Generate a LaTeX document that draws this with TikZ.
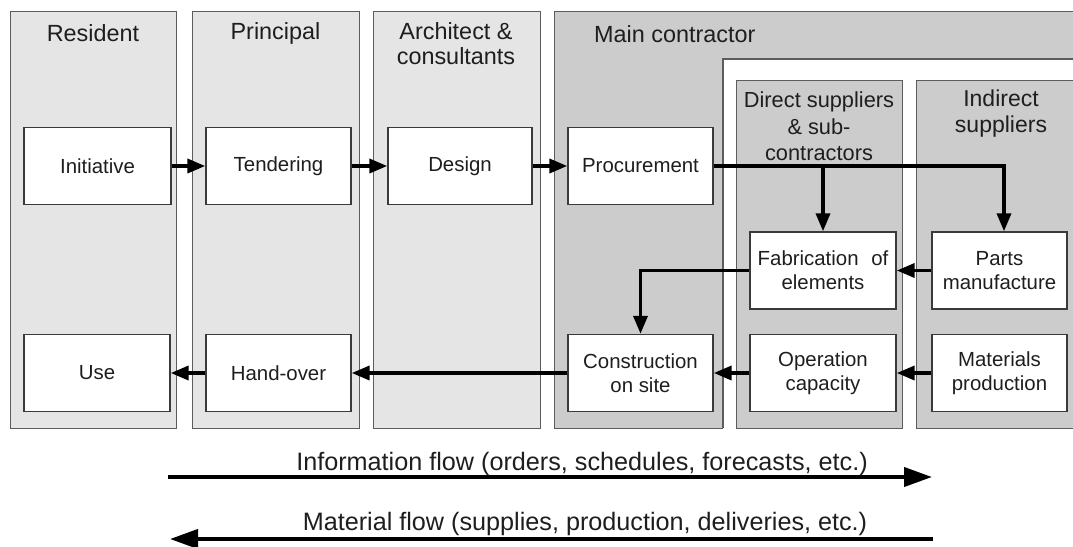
\documentclass[tikz,border=0pt]{standalone}
\usepackage{fontspec}
\setmainfont{Liberation Sans}
\usetikzlibrary{arrows.meta}
\definecolor{lanelight}{HTML}{E5E5E5}
\definecolor{lanedark}{HTML}{CCCCCC}
\definecolor{laneedge}{HTML}{5C5C5C}
\definecolor{boxedge}{HTML}{3A3A3A}
\definecolor{ink}{HTML}{1E1E1E}
\begin{document}
\begin{tikzpicture}[x=1pt,y=-1pt,
  lane/.style={draw=laneedge,line width=1.2pt,anchor=north west,inner sep=0pt},
  box/.style={draw=boxedge,fill=white,line width=1.4pt,minimum height=77pt,align=center,
    font=\fontsize{20.4}{24}\selectfont,text=ink,inner sep=0pt},
  head/.style={font=\fontsize{23.4}{25}\selectfont,align=center,text=ink,inner sep=0pt},
  arr/.style={line width=3.6pt,-{Triangle[length=18pt,width=14pt]}},
  flow/.style={line width=4pt,-{Triangle[length=28pt,width=19pt]}},
  flowtext/.style={font=\fontsize{25.2}{28}\selectfont,text=ink,inner sep=0pt,anchor=base}
]
\useasboundingbox (0,0) rectangle (1073,546);
\clip (0,0) rectangle (1073,546);

% swim lanes
\node[lane,fill=lanelight,minimum width=166pt,minimum height=417pt] (resL) at (10,11) {};
\node[lane,fill=lanelight,minimum width=167pt,minimum height=417pt] (prinL) at (192,11) {};
\node[lane,fill=lanelight,minimum width=167pt,minimum height=417pt] (archL) at (373,11) {};
\node[lane,fill=lanedark,minimum width=540pt,minimum height=417pt] (mainL) at (554,11) {};
% white inner area of the main contractor
\fill[white] (723,59) rectangle (1090,430);
\draw[laneedge,line width=1.2pt] (723,428) -- (723,59) -- (1090,59);
\node[lane,fill=lanedark,minimum width=166pt,minimum height=348pt] (dirL) at (736,80) {};
\node[lane,fill=lanedark,minimum width=172pt,minimum height=348pt] (indL) at (916,80) {};

% lane headings
\node[head] (resH) at (93,33) {Resident};
\node[head] (prinH) at (275.5,33) {Principal};
\node[head] (archH) at (456,44) {Architect \&\\consultants};
\node[head,anchor=west] (mainH) at (594,34) {Main contractor};
\node[head,font=\fontsize{21.8}{26.5}\selectfont] (dirH) at (819,126.5) {Direct suppliers\\\& sub-\\contractors};
\node[head,font=\fontsize{23}{26.5}\selectfont] (indH) at (1001,113.5) {Indirect\\suppliers};

% process boxes
\node[box,minimum width=147pt] (init) at (97.5,166) {Initiative};
\node[box,minimum width=145pt] (tend) at (278.5,166) {Tendering};
\node[box,minimum width=144pt] (design) at (460,166) {Design};
\node[box,minimum width=145pt] (proc) at (640.5,166) {Procurement};
\node[box,minimum width=146pt] (fab) at (823,270.5) {Fabrication\hspace{7pt} of\\elements};
\node[box,minimum width=135pt] (parts) at (999.5,270.5) {Parts\\manufacture};
\node[box,minimum width=146pt] (use) at (97,373) {Use};
\node[box,minimum width=145pt] (hand) at (278.5,373) {Hand-over};
\node[box,minimum width=145pt] (cons) at (640.5,373) {Construction\\on site};
\node[box,minimum width=146pt] (oper) at (823,373) {Operation\\capacity};
\node[box,minimum width=135pt] (mat) at (999.5,373) {Materials\\production};

% connectors
\draw[arr] (init) -- (tend);
\draw[arr] (tend) -- (design);
\draw[arr] (design) -- (proc);
\draw[arr] (proc.east) -| ([xshift=4.5pt]parts.north);
\draw[arr] (proc.east -| fab.north) -- (fab.north);
\draw[arr] (parts) -- (fab);
\draw[arr] (fab.west) -| (cons.north);
\draw[arr] (mat) -- (oper);
\draw[arr] (oper) -- (cons);
\draw[arr] (cons) -- (hand);
\draw[arr] (hand) -- (use);

% flow legend
\coordinate (infoL) at (168,477);
\coordinate (infoR) at (932,477);
\draw[flow] (infoL) -- (infoR);
\node[flowtext] (infoT) at (582,470) {Information flow (orders, schedules, forecasts, etc.)};
\coordinate (matR) at (933,539);
\coordinate (matL) at (170,539);
\draw[flow] (matR) -- (matL);
\node[flowtext] (matT) at (585,530) {Material flow (supplies, production, deliveries, etc.)};
\end{tikzpicture}
\end{document}
